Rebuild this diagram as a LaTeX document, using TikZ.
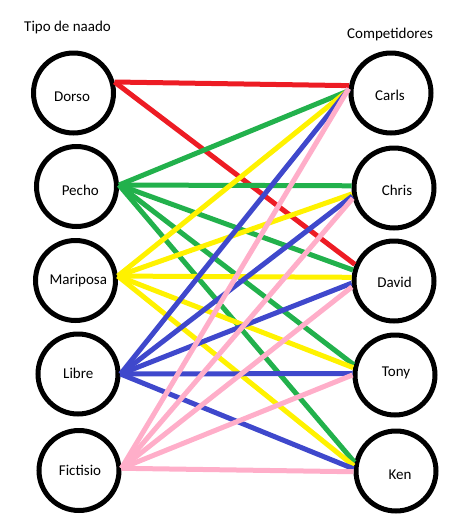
\documentclass[tikz,border=0pt]{standalone}
\usepackage{fontspec}
\setmainfont{Carlito}
\definecolor{pred}{HTML}{ED1C24}
\definecolor{pgreen}{HTML}{22B14C}
\definecolor{pyellow}{HTML}{FFF200}
\definecolor{pblue}{HTML}{3F48CC}
\definecolor{ppink}{HTML}{FFAEC9}
\begin{document}
\begin{tikzpicture}[x=1pt,y=-1pt,
  vert/.style={circle, draw=black, line width=5pt, minimum size=80pt, inner sep=0pt},
  lab/.style={font=\fontsize{15}{18}\selectfont, anchor=base, inner sep=0pt},
  title/.style={font=\fontsize{15}{18}\selectfont, anchor=base west, inner sep=0pt},
  link/.style={line width=5pt},
]
\useasboundingbox (0,0) rectangle (472,531);
\node[title] (t1) at (24,31.5) {Tipo de naado};
\node[title] (t2) at (347,38.5) {Competidores};

\node[vert] (dorso) at (73.5,93) {};
\node[vert] (pecho) at (76.5,186.5) {};
\node[vert] (mariposa) at (75.5,280.5) {};
\node[vert] (libre) at (78,374) {};
\node[vert] (fictisio) at (79,470.5) {};

\node[vert] (carls) at (391,93) {};
\node[vert] (chris) at (394,188) {};
\node[vert] (david) at (394,281) {};
\node[vert] (tony) at (395,375) {};
\node[vert] (ken) at (396,471) {};

\node[lab] (dorsoT) at (72,101.7) {Dorso};
\node[lab] (pechoT) at (80.3,195.7) {Pecho};
\node[lab] (mariposaT) at (78.3,284.3) {Mariposa};
\node[lab] (libreT) at (78.3,378.3) {Libre};
\node[lab] (fictisioT) at (80,475.5) {Fictisio};
\node[lab] (carlsT) at (390,100) {Carls};
\node[lab] (chrisT) at (397,195.7) {Chris};
\node[lab] (davidT) at (394.5,287.3) {David};
\node[lab] (tonyT) at (396,376.7) {Tony};
\node[lab] (kenT) at (400,479.5) {Ken};

\draw[link, pred] (dorso.15) -- (carls.170);
\draw[link, pred] (dorso.15) -- (david.157);

\draw[link, pgreen] (pecho.2) -- (carls.177);
\draw[link, pgreen] (pecho.2) -- (chris.177);
\draw[link, pgreen] (pecho.2) -- (david.165);
\draw[link, pgreen] (pecho.2) -- (tony.166);
\draw[link, pgreen] (pecho.2) -- (ken.168);

\draw[link, pyellow] (mariposa.6) -- (carls.176);
\draw[link, pyellow] (mariposa.6) -- (chris.188);
\draw[link, pyellow] (mariposa.6) -- (david.175);
\draw[link, pyellow] (mariposa.6) -- (tony.170);
\draw[link, pyellow] (mariposa.6) -- (ken.173);

\draw[link, pblue] (libre.0) -- (carls.175);
\draw[link, pblue] (libre.0) -- (chris.191);
\draw[link, pblue] (libre.0) -- (david.183);
\draw[link, pblue] (libre.0) -- (tony.178);
\draw[link, pblue] (libre.0) -- (ken.177);

\draw[link, ppink] (fictisio.3) -- (carls.174);
\draw[link, ppink] (fictisio.3) -- (chris.194);
\draw[link, ppink] (fictisio.3) -- (david.188);
\draw[link, ppink] (fictisio.3) -- (tony.180);
\draw[link, ppink] (fictisio.3) -- (ken.181);
\end{tikzpicture}
\end{document}
